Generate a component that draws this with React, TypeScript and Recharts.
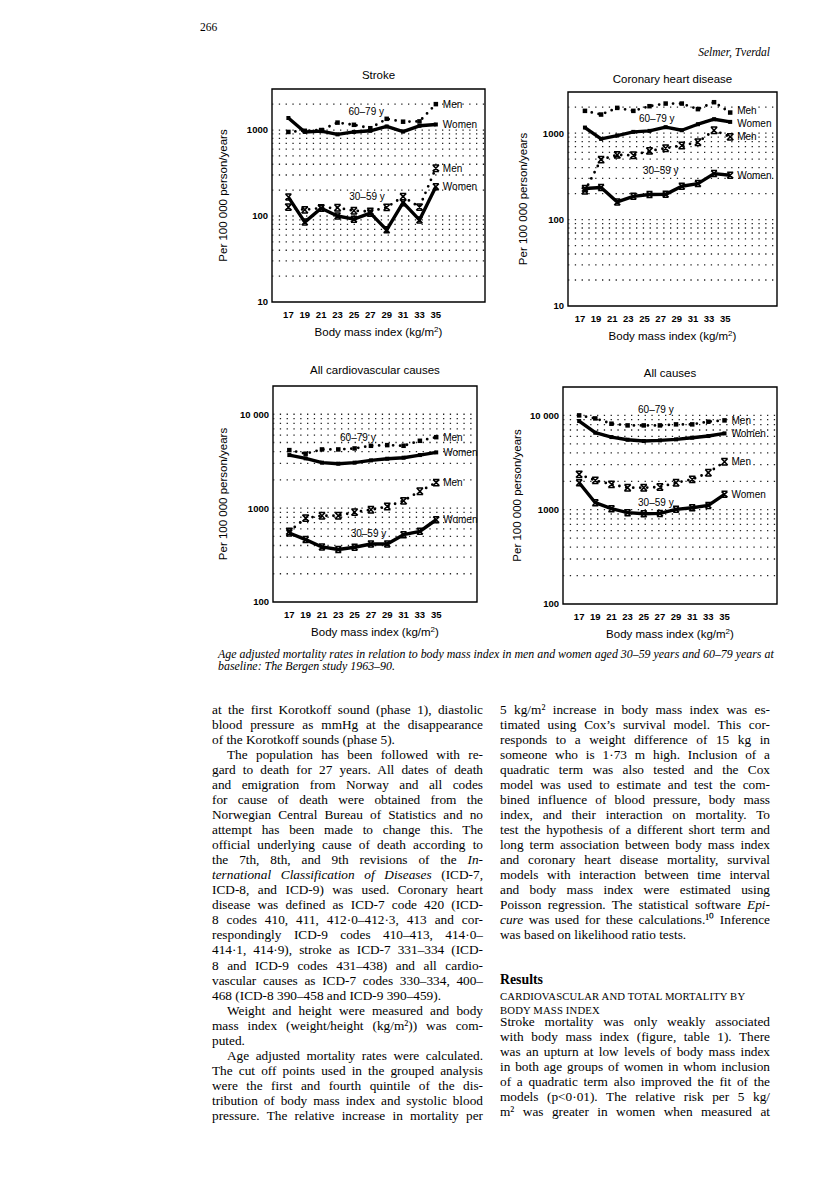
import React from 'react';
import { LineChart, Line, XAxis, YAxis, ReferenceLine, ReferenceArea, ReferenceDot } from 'recharts';

const SANS = '"Liberation Sans", Arial, sans-serif';
const SERIF = '"Liberation Serif", "Times New Roman", serif';

// body mass index groups (kg/m2)
const bmi = [17, 19, 21, 23, 25, 27, 29, 31, 33, 35];
const bmiTicks = [17, 19, 21, 23, 25, 27, 29, 31, 33, 35];

// rates per 100 000 person/years
const strokeOldMen = [950, 980, 1000, 1220, 1150, 1050, 1350, 1250, 1260, 2000];
const strokeOldWomen = [1380, 950, 970, 890, 950, 980, 1100, 960, 1120, 1160];
const strokeYoungMen = [127, 118, 124, 125, 115, 113, 126, 168, 127, 360];
const strokeYoungWomen = [166, 85, 123, 100, 92, 108, 69, 143, 90, 219];

const chdOldMen = [1815, 1645, 1965, 1815, 2055, 2205, 2205, 1900, 2285, 1735];
const chdOldWomen = [1163, 860, 940, 1036, 1064, 1174, 1083, 1271, 1452, 1352];
const chdYoungMen = [215, 495, 561, 556, 624, 670, 720, 787, 1083, 907];
const chdYoungWomen = [229, 235, 160, 186, 195, 196, 243, 261, 341, 326];

const cvdOldMen = [4150, 3800, 4220, 4220, 4325, 4615, 4690, 4615, 5215, 5700];
const cvdOldWomen = [3675, 3390, 3050, 2975, 3050, 3225, 3360, 3445, 3675, 3925];
const cvdYoungMen = [566, 783, 830, 830, 907, 960, 1042, 1196, 1514, 1871];
const cvdYoungWomen = [543, 462, 386, 362, 383, 415, 415, 521, 566, 752];

const allOldMen = [10000, 9290, 8160, 7830, 7830, 7830, 8030, 8030, 8570, 8850];
const allOldWomen = [8710, 6550, 5890, 5520, 5345, 5430, 5570, 5800, 6040, 6440];
const allYoungMen = [2370, 2045, 1857, 1711, 1711, 1739, 1932, 2097, 2467, 3226];
const allYoungWomen = [1932, 1186, 1025, 930, 907, 914, 1008, 1050, 1111, 1454];

const lowTicks = [10, 100, 1000];
const highTicks = [100, 1000, 10000];
const lowGrid = [20, 30, 40, 50, 60, 70, 80, 90, 100, 200, 300, 400, 500, 600, 700, 800, 900, 1000, 2000];
const highGrid = [200, 300, 400, 500, 600, 700, 800, 900, 1000, 2000, 3000, 4000, 5000, 6000, 7000, 8000, 9000, 10000];

const fmt = (v: number) => (v >= 10000 ? '10 000' : String(v));

const squareDot = (size: number) => (props: any) => {
  const { cx, cy, index } = props;
  if (cx == null || cy == null) return <g key={index} />;
  return <rect key={index} x={cx - size / 2} y={cy - size / 2} width={size} height={size} fill="#000" />;
};

const crossDot = (s: number) => (props: any) => {
  const { cx, cy, index } = props;
  if (cx == null || cy == null) return <g key={index} />;
  const d = `M${cx - s},${cy - s}L${cx + s},${cy + s}M${cx - s},${cy + s}L${cx + s},${cy - s}M${cx - s},${cy - s}L${cx + s},${cy - s}M${cx - s},${cy + s}L${cx + s},${cy + s}`;
  return <path key={index} d={d} stroke="#000" strokeWidth={1.5} fill="none" />;
};

type PanelProps = {
  title: string;
  titleY: number;
  box: [number, number, number, number];
  xDomain: [number, number];
  yDomain: [number, number];
  yTicks: number[];
  grid: number[];
  oldMen: number[];
  oldWomen: number[];
  youngMen: number[];
  youngWomen: number[];
  oldAt: [number, number];
  youngAt: [number, number];
  yLabelGap: number;
  tickDx?: number;
  endDy?: [number, number, number, number];
};

function Panel(p: PanelProps) {
  const [l, t, r, b] = p.box;
  const yW = 62, mt = 6, mr = 6, xH = 44;
  const width = r - l + yW + mr;
  const height = b - t + mt + xH;
  const data = bmi.map((x, i) => ({
    bmi: x,
    oldMen: p.oldMen[i],
    oldWomen: p.oldWomen[i],
    youngMen: p.youngMen[i],
    youngWomen: p.youngWomen[i],
  }));
  const last = bmi.length - 1;
  const dy = p.endDy || [0, 0, 0, 0];
  const textStyle = { fontFamily: SANS, fontSize: 10, fill: '#000' };
  const endLabel = (value: string, shift: number) => ({
    content: (lp: any) => {
      const vb = lp.viewBox || {};
      return (
        <text x={vb.x + 7} y={vb.y + shift} dominantBaseline="central" fontFamily={SANS} fontSize={10} fill="#000">
          {value}
        </text>
      );
    },
  });

  return (
    <>
      <div style={{ position: 'absolute', left: l, width: r - l, top: p.titleY - 7, textAlign: 'center', fontFamily: SANS, fontSize: 11.5, lineHeight: '14px' }}>
        {p.title}
      </div>
      <div style={{ position: 'absolute', left: l - yW, top: t - mt }}>
        <LineChart width={width} height={height} data={data} margin={{ top: mt, right: mr, bottom: 0, left: 0 }}>
          <XAxis
            dataKey="bmi"
            type="number"
            domain={p.xDomain}
            ticks={bmiTicks}
            allowDataOverflow
            axisLine={false}
            tickLine={false}
            tickSize={0}
            tickMargin={9}
            height={xH}
            tick={{ fontFamily: SANS, fontSize: 9.5, fontWeight: 700, fill: '#000', dx: p.tickDx || 0 }}
            label={{
              content: (lp: any) => {
                const vb = lp.viewBox || {};
                return (
                  <text x={vb.x + vb.width / 2} y={vb.y + 34} textAnchor="middle" fontFamily={SANS} fontSize={11.5} fill="#000">
                    Body mass index (kg/m<tspan dy={-4} fontSize={8}>2</tspan><tspan dy={4}>)</tspan>
                  </text>
                );
              },
            }}
          />
          <YAxis
            type="number"
            scale="log"
            domain={p.yDomain}
            ticks={p.yTicks}
            allowDataOverflow
            width={yW}
            axisLine={false}
            tickLine={false}
            tickSize={0}
            tickMargin={4}
            tickFormatter={fmt}
            tick={{ fontFamily: SANS, fontSize: 9.5, fontWeight: 700, fill: '#000' }}
            label={{
              content: (lp: any) => {
                const vb = lp.viewBox || {};
                const cx = vb.x + yW - p.yLabelGap;
                const cy = vb.y + vb.height / 2;
                return (
                  <text x={cx} y={cy} transform={`rotate(-90 ${cx} ${cy})`} textAnchor="middle" dominantBaseline="central" fontFamily={SANS} fontSize={11.5} fill="#000">
                    Per 100 000 person/years
                  </text>
                );
              },
            }}
          />
          {p.grid.map((v) => (
            <ReferenceLine key={v} y={v} stroke="#222" strokeWidth={1.3} strokeDasharray="1.3 5.5" />
          ))}
          <ReferenceArea x1={p.xDomain[0]} x2={p.xDomain[1]} y1={p.yDomain[0]} y2={p.yDomain[1]} fill="none" stroke="#000" strokeWidth={1.4} fillOpacity={0} />
          <Line dataKey="oldMen" stroke="#000" strokeWidth={2.8} strokeDasharray="0 7" strokeLinecap="round" dot={squareDot(4.5)} activeDot={false} isAnimationActive={false} />
          <Line dataKey="youngMen" stroke="#000" strokeWidth={2.8} strokeDasharray="0 7" strokeLinecap="round" dot={crossDot(3.2)} activeDot={false} isAnimationActive={false} />
          <Line dataKey="oldWomen" stroke="#000" strokeWidth={3.4} strokeLinejoin="round" dot={squareDot(4)} activeDot={false} isAnimationActive={false} />
          <Line dataKey="youngWomen" stroke="#000" strokeWidth={3.4} strokeLinejoin="round" dot={crossDot(3)} activeDot={false} isAnimationActive={false} />
          <ReferenceDot x={bmi[last]} y={p.oldMen[last]} r={0} fill="none" stroke="none" label={endLabel('Men', dy[0])} />
          <ReferenceDot x={bmi[last]} y={p.oldWomen[last]} r={0} fill="none" stroke="none" label={endLabel('Women', dy[1])} />
          <ReferenceDot x={bmi[last]} y={p.youngMen[last]} r={0} fill="none" stroke="none" label={endLabel('Men', dy[2])} />
          <ReferenceDot x={bmi[last]} y={p.youngWomen[last]} r={0} fill="none" stroke="none" label={endLabel('Women', dy[3])} />
          <ReferenceDot x={p.oldAt[0]} y={p.oldAt[1]} r={0} fill="none" stroke="none" label={{ value: '60–79 y', position: 'center', ...textStyle }} />
          <ReferenceDot x={p.youngAt[0]} y={p.youngAt[1]} r={0} fill="none" stroke="none" label={{ value: '30–59 y', position: 'center', ...textStyle }} />
        </LineChart>
      </div>
    </>
  );
}

type TextLine = { t: React.ReactNode; end?: boolean; indent?: boolean };

const leftLines: TextLine[] = [
  { t: 'at the first Korotkoff sound (phase 1), diastolic' },
  { t: 'blood pressure as mmHg at the disappearance' },
  { t: 'of the Korotkoff sounds (phase 5).', end: true },
  { t: 'The population has been followed with re-', indent: true },
  { t: 'gard to death for 27 years. All dates of death' },
  { t: 'and emigration from Norway and all codes' },
  { t: 'for cause of death were obtained from the' },
  { t: 'Norwegian Central Bureau of Statistics and no' },
  { t: 'attempt has been made to change this. The' },
  { t: 'official underlying cause of death according to' },
  { t: <>the 7th, 8th, and 9th revisions of the <i>In-</i></> },
  { t: <><i>ternational Classification of Diseases</i> (ICD-7,</> },
  { t: 'ICD-8, and ICD-9) was used. Coronary heart' },
  { t: 'disease was defined as ICD-7 code 420 (ICD-' },
  { t: '8 codes 410, 411, 412·0–412·3, 413 and cor-' },
  { t: 'respondingly ICD-9 codes 410–413, 414·0–' },
  { t: '414·1, 414·9), stroke as ICD-7 331–334 (ICD-' },
  { t: '8 and ICD-9 codes 431–438) and all cardio-' },
  { t: 'vascular causes as ICD-7 codes 330–334, 400–' },
  { t: '468 (ICD-8 390–458 and ICD-9 390–459).', end: true },
  { t: 'Weight and height were measured and body', indent: true },
  { t: 'mass index (weight/height (kg/m²)) was com-' },
  { t: 'puted.', end: true },
  { t: 'Age adjusted mortality rates were calculated.', indent: true },
  { t: 'The cut off points used in the grouped analysis' },
  { t: 'were the first and fourth quintile of the dis-' },
  { t: 'tribution of body mass index and systolic blood' },
  { t: 'pressure. The relative increase in mortality per' },
];

const rightLines: TextLine[] = [
  { t: '5 kg/m² increase in body mass index was es-' },
  { t: 'timated using Cox’s survival model. This cor-' },
  { t: 'responds to a weight difference of 15 kg in' },
  { t: 'someone who is 1·73 m high. Inclusion of a' },
  { t: 'quadratic term was also tested and the Cox' },
  { t: 'model was used to estimate and test the com-' },
  { t: 'bined influence of blood pressure, body mass' },
  { t: 'index, and their interaction on mortality. To' },
  { t: 'test the hypothesis of a different short term and' },
  { t: 'long term association between body mass index' },
  { t: 'and coronary heart disease mortality, survival' },
  { t: 'models with interaction between time interval' },
  { t: 'and body mass index were estimated using' },
  { t: <>Poisson regression. The statistical software <i>Epi-</i></> },
  { t: <><i>cure</i> was used for these calculations.¹⁰ Inference</> },
  { t: 'was based on likelihood ratio tests.', end: true },
];

const resultLines: TextLine[] = [
  { t: 'Stroke mortality was only weakly associated' },
  { t: 'with body mass index (figure, table 1). There' },
  { t: 'was an upturn at low levels of body mass index' },
  { t: 'in both age groups of women in whom inclusion' },
  { t: 'of a quadratic term also improved the fit of the' },
  { t: 'models (p<0·01). The relative risk per 5 kg/' },
  { t: 'm² was greater in women when measured at' },
];

function Column({ lines, left, top, width }: { lines: TextLine[]; left: number; top: number; width: number }) {
  const lh = 15.03;
  return (
    <>
      {lines.map((ln, i) => (
        <div
          key={i}
          style={{
            position: 'absolute',
            left,
            top: top + i * lh,
            width,
            height: lh,
            boxSizing: 'border-box',
            paddingLeft: ln.indent ? 15 : 0,
            fontFamily: SERIF,
            fontSize: 13.3,
            lineHeight: `${lh}px`,
            whiteSpace: 'nowrap',
            textAlign: 'justify',
            textAlignLast: ln.end ? 'left' : 'justify',
            color: '#000',
          }}
        >
          {ln.t}
        </div>
      ))}
    </>
  );
}

export default function App() {
  return (
    <div style={{ position: 'absolute', left: 0, top: 0, width: 816, height: 1198, background: '#fff', overflow: 'hidden' }}>
      <div style={{ position: 'absolute', left: 200, top: 21, fontFamily: SERIF, fontSize: 11.5 }}>266</div>
      <div style={{ position: 'absolute', right: 46, top: 46, fontFamily: SERIF, fontSize: 11.5, fontStyle: 'italic' }}>Selmer, Tverdal</div>

      <Panel
        title="Stroke"
        titleY={75}
        box={[272, 89, 485, 302]}
        xDomain={[15, 41]}
        yDomain={[10, 3000]}
        yTicks={lowTicks}
        grid={lowGrid}
        oldMen={strokeOldMen}
        oldWomen={strokeOldWomen}
        youngMen={strokeYoungMen}
        youngWomen={strokeYoungWomen}
        oldAt={[26.5, 1650]}
        youngAt={[26.6, 170]}
        yLabelGap={49}
      />
      <Panel
        title="Coronary heart disease"
        titleY={79}
        box={[568, 92, 777, 306]}
        xDomain={[14.9, 40.8]}
        yDomain={[10, 3000]}
        yTicks={lowTicks}
        grid={lowGrid}
        oldMen={chdOldMen}
        oldWomen={chdOldWomen}
        youngMen={chdYoungMen}
        youngWomen={chdYoungWomen}
        oldAt={[25.9, 1485]}
        youngAt={[26.4, 367]}
        yLabelGap={45}
        tickDx={-5}
        endDy={[-2, 2, 0, 0]}
      />
      <Panel
        title="All cardiovascular causes"
        titleY={370}
        box={[273, 386, 477, 602]}
        xDomain={[15, 40]}
        yDomain={[100, 20000]}
        yTicks={highTicks}
        grid={highGrid}
        oldMen={cvdOldMen}
        oldWomen={cvdOldWomen}
        youngMen={cvdYoungMen}
        youngWomen={cvdYoungWomen}
        oldAt={[25.4, 5620]}
        youngAt={[26.7, 540]}
        yLabelGap={50}
      />
      <Panel
        title="All causes"
        titleY={373}
        box={[563, 387, 777, 604]}
        xDomain={[15, 41.5]}
        yDomain={[100, 20000]}
        yTicks={highTicks}
        grid={highGrid}
        oldMen={allOldMen}
        oldWomen={allOldWomen}
        youngMen={allYoungMen}
        youngWomen={allYoungWomen}
        oldAt={[26.5, 11700]}
        youngAt={[26.5, 1207]}
        yLabelGap={46}
      />

      <div style={{ position: 'absolute', left: 218, top: 648, width: 580, fontFamily: SERIF, fontSize: 11.9, fontStyle: 'italic', lineHeight: '12px', whiteSpace: 'nowrap' }}>
        Age adjusted mortality rates in relation to body mass index in men and women aged 30–59 years and 60–79 years at
        <br />
        baseline: The Bergen study 1963–90.
      </div>

      <Column lines={leftLines} left={212} top={702} width={271} />
      <Column lines={rightLines} left={500} top={702} width={270} />

      <div style={{ position: 'absolute', left: 500, top: 972, fontFamily: SERIF, fontSize: 13.8, fontWeight: 700, lineHeight: '15px' }}>Results</div>
      <div style={{ position: 'absolute', left: 500, top: 989, fontFamily: SERIF, fontSize: 10.7, lineHeight: '14px', letterSpacing: 0.15 }}>
        CARDIOVASCULAR AND TOTAL MORTALITY BY
        <br />
        BODY MASS INDEX
      </div>
      <Column lines={resultLines} left={500} top={1014} width={270} />
    </div>
  );
}
